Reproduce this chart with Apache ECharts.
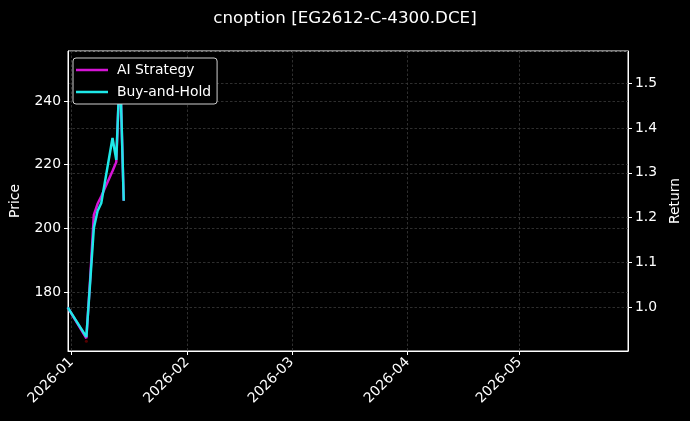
<!DOCTYPE html>
<html>
<head>
<meta charset="utf-8">
<script src="https://cdn.jsdelivr.net/npm/echarts@6/dist/echarts.min.js"></script>
<style>
  html, body { margin: 0; padding: 0; background: #000; }
  #chart { width: 690px; height: 421px; }
</style>
</head>
<body>
<div id="chart"></div>
<script>
// trading days shown in the chart
var dates = ['2025-12-31', '2026-01-05', '2026-01-06', '2026-01-07', '2026-01-08',
             '2026-01-09', '2026-01-12', '2026-01-13', '2026-01-14', '2026-01-15'];

// cumulative return (right axis)
var aiStrategy = [1.000, 0.931, 1.061, 1.206, 1.231, 1.248, 1.304, 1.324, 1.540, 1.238];
var buyAndHold = [1.000, 0.934, 1.054, 1.177, 1.215, 1.233, 1.378, 1.329, 1.542, 1.238];

// trade marker
var buyDates = ['2026-01-05'];
var buyValues = [0.924];

var monthTicks = ['2026-01-01', '2026-02-01', '2026-03-01', '2026-04-01', '2026-05-01'];

var priceRange = [161.5, 255.7];
var returnRange = [0.9025, 1.572];

function toTime(s) {
    var p = s.split('-');
    return new Date(+p[0], +p[1] - 1, +p[2]).getTime();
}

function pairs(xs, ys) {
    return xs.map(function (d, i) { return [toTime(d), ys[i]]; });
}

function monthLabel(v) {
    var d = new Date(v);
    var m = d.getMonth() + 1;
    return d.getFullYear() + '-' + (m < 10 ? '0' + m : m);
}

var font = 'DejaVu Sans';
var fs = 13.9;
var gridLine = { show: true, lineStyle: { color: '#3a3a3a', type: [2.5, 2], width: 0.8 } };
var tickVals = monthTicks.map(toTime);

var chart = echarts.init(document.getElementById('chart'));

chart.setOption({
    backgroundColor: '#000',
    animation: false,
    textStyle: { fontFamily: font },
    title: {
        text: 'cnoption [EG2612-C-4300.DCE]',
        left: 'center',
        top: 5,
        textStyle: { color: '#fff', fontSize: 16.7, fontWeight: 'normal', fontFamily: font }
    },
    legend: {
        orient: 'vertical',
        left: 73,
        top: 58,
        data: ['AI Strategy', 'Buy-and-Hold'],
        icon: 'rect',
        itemWidth: 32,
        itemHeight: 2.5,
        itemGap: 6,
        padding: [4, 6, 4, 3],
        backgroundColor: '#000',
        borderColor: '#cfcfcf',
        borderWidth: 1,
        borderRadius: 3,
        textStyle: { color: '#fff', fontSize: fs, fontFamily: font, lineHeight: 16,
                     padding: [0, 0, 0, 4] }
    },
    grid: {
        left: 67, right: 61, top: 51, bottom: 70,
        show: true, borderColor: '#fff', borderWidth: 1, backgroundColor: '#000'
    },
    xAxis: {
        type: 'value',
        min: toTime('2025-12-31') + 2 * 3600 * 1000,
        max: toTime('2026-05-30'),
        axisLine: { show: true, lineStyle: { color: '#fff' } },
        axisTick: { show: true, length: 4, lineStyle: { color: '#fff' }, customValues: tickVals },
        axisLabel: {
            color: '#fff', fontSize: fs, fontFamily: font, rotate: 45, margin: 9,
            customValues: tickVals,
            formatter: monthLabel
        },
        splitLine: gridLine
    },
    yAxis: [{
        type: 'value',
        name: 'Price',
        nameLocation: 'middle',
        nameGap: 46,
        nameTextStyle: { color: '#fff', fontSize: fs, fontFamily: font },
        min: priceRange[0],
        max: priceRange[1],
        minInterval: 20,
        maxInterval: 20,
        axisLine: { show: true, lineStyle: { color: '#fff' } },
        axisTick: { show: true, length: 4, lineStyle: { color: '#fff' } },
        axisLabel: { color: '#fff', fontSize: fs, fontFamily: font, margin: 7,
                     showMinLabel: false, showMaxLabel: false },
        splitLine: gridLine
    }, {
        type: 'value',
        name: 'Return',
        nameLocation: 'middle',
        nameGap: 37,
        nameTextStyle: { color: '#fff', fontSize: fs, fontFamily: font },
        min: returnRange[0],
        max: returnRange[1],
        minInterval: 0.1,
        maxInterval: 0.1,
        axisLine: { show: true, lineStyle: { color: '#fff' } },
        axisTick: { show: true, length: 4, lineStyle: { color: '#fff' } },
        axisLabel: { color: '#fff', fontSize: fs, fontFamily: font, margin: 7,
                     showMinLabel: false, showMaxLabel: false,
                     formatter: function (v) { return v.toFixed(1); } },
        splitLine: gridLine
    }],
    series: [{
        name: 'AI Strategy',
        type: 'line',
        yAxisIndex: 1,
        data: pairs(dates, aiStrategy),
        showSymbol: false,
        lineStyle: { color: '#d514d5', width: 2.5 },
        itemStyle: { color: '#d514d5' }
    }, {
        name: 'Buy-and-Hold',
        type: 'line',
        yAxisIndex: 1,
        data: pairs(dates, buyAndHold),
        showSymbol: false,
        lineStyle: { color: '#1ee8e8', width: 2.5 },
        itemStyle: { color: '#1ee8e8' }
    }, {
        name: 'Buy',
        type: 'scatter',
        yAxisIndex: 1,
        data: pairs(buyDates, buyValues),
        symbolSize: 3,
        itemStyle: { color: '#6b0000' },
        z: 1
    }]
});
</script>
</body>
</html>
